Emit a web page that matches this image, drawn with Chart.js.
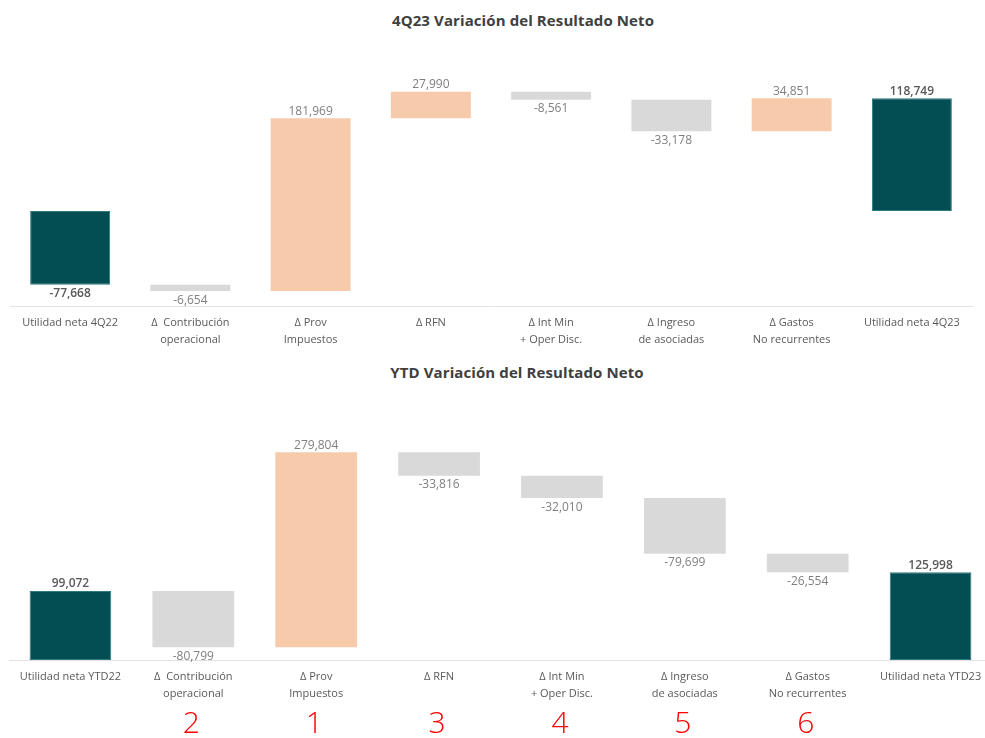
<!DOCTYPE html>
<html>
<head>
<meta charset="utf-8">
<script src="https://cdn.jsdelivr.net/npm/chart.js@4.4.0/dist/chart.umd.min.js"></script>
<style>
  html, body { margin: 0; padding: 0; background: #fff; overflow: hidden; width: 985px; height: 738px; }
  .wrap { position: relative; width: 985px; height: 738px; overflow: hidden; }
  canvas { position: absolute; left: 0; }
  .title { position: absolute; transform: translate(-50%, -50%); font-family: "Open Sans", sans-serif; font-weight: 700; font-size: 15px; color: #404040; white-space: nowrap; letter-spacing: 0.1px; }
</style>
</head>
<body>
<div class="wrap">
  <div class="title" style="top:20px; left:523px;">4Q23 Variación del Resultado Neto</div>
  <canvas id="c1" width="985" height="356" style="top:0;"></canvas>
  <div class="title" style="top:372px; left:517px;">YTD Variación del Resultado Neto</div>
  <canvas id="c2" width="992" height="382" style="top:356px;"></canvas>
</div>
<script>
// ---- Data ----
const categoriesQ = [
  "Utilidad neta 4Q22",
  ["Δ  Contribución", "operacional"],
  ["Δ Prov", "Impuestos"],
  "Δ RFN",
  ["Δ Int Min", "+ Oper Disc."],
  ["Δ Ingreso", "de asociadas"],
  ["Δ Gastos", "No recurrentes"],
  "Utilidad neta 4Q23"
];
const valuesQ = [-77668, -6654, 181969, 27990, -8561, -33178, 34851, 118749];
const isTotalQ = [true, false, false, false, false, false, false, true];

const categoriesYTD = [
  "Utilidad neta YTD22",
  ["Δ  Contribución", "operacional"],
  ["Δ Prov", "Impuestos"],
  "Δ RFN",
  ["Δ Int Min", "+ Oper Disc."],
  ["Δ Ingreso", "de asociadas"],
  ["Δ Gastos", "No recurrentes"],
  "Utilidad neta YTD23"
];
const valuesYTD = [99072, -80799, 279804, -33816, -32010, -79699, -26554, 125998];
const isTotalYTD = [true, false, false, false, false, false, false, true];
const rankYTD = ["", "2", "1", "3", "4", "5", "6", ""];

// ---- Styling ----
const TEAL = "#034E52";
const PEACH = "#F7CAAC";
const GRAY = "#D9D9D9";
const FONT = "'Open Sans', sans-serif";

function buildRanges(values, totals) {
  let cum = 0;
  return values.map((v, i) => {
    if (totals[i]) { cum = v; return [0, v]; }
    const start = cum; cum += v; return [start, cum];
  });
}
function buildColors(values, totals) {
  return values.map((v, i) => totals[i] ? TEAL : (v >= 0 ? PEACH : GRAY));
}

const valueLabels = {
  id: "valueLabels",
  afterDatasetsDraw(chart, args, opts) {
    const ctx = chart.ctx;
    const meta = chart.getDatasetMeta(0);
    ctx.save();
    ctx.textAlign = "center";
    meta.data.forEach((el, i) => {
      const v = opts.values[i];
      const total = opts.totals[i];
      ctx.font = (total ? "600 " : "400 ") + "12px " + FONT;
      ctx.fillStyle = total ? "#595959" : "#7F7F7F";
      const top = Math.min(el.y, el.base), bot = Math.max(el.y, el.base);
      const txt = v.toLocaleString("en-US");
      if (v >= 0) { ctx.textBaseline = "bottom"; ctx.fillText(txt, el.x, top - 1); }
      else { ctx.textBaseline = "top"; ctx.fillText(txt, el.x, bot + 3); }
    });
    ctx.restore();
  }
};

const rankLabels = {
  id: "rankLabels",
  afterDraw(chart, args, opts) {
    if (!opts.ranks) return;
    const ctx = chart.ctx;
    const xs = chart.scales.x;
    ctx.save();
    ctx.textAlign = "center";
    ctx.textBaseline = "middle";
    ctx.font = "300 30px " + FONT;
    ctx.fillStyle = "#FF0000";
    opts.ranks.forEach((r, i) => {
      if (r) ctx.fillText(r, xs.getPixelForValue(i) - 2, chart.chartArea.bottom + opts.offset);
    });
    ctx.restore();
  }
};

function makeChart(id, labels, values, totals, yMin, yMax, padTop, padLeft, padRight, axisH, ranks) {
  return new Chart(document.getElementById(id), {
    type: "bar",
    data: {
      labels: labels,
      datasets: [{
        data: buildRanges(values, totals),
        backgroundColor: buildColors(values, totals),
        borderColor: values.map((v, i) => totals[i] ? "#2E7A80" : "rgba(0,0,0,0)"),
        borderWidth: values.map((v, i) => totals[i] ? 1 : 0),
        borderSkipped: false,
        barPercentage: 0.665,
        categoryPercentage: 1.0
      }]
    },
    options: {
      responsive: false,
      devicePixelRatio: 1,
      animation: false,
      layout: { padding: { top: padTop, left: padLeft, right: padRight, bottom: 0 } },
      plugins: {
        legend: { display: false },
        tooltip: { enabled: false },
        title: { display: false },
        valueLabels: { values: values, totals: totals },
        rankLabels: { ranks: ranks, offset: 64 }
      },
      scales: {
        x: {
          grid: { display: false, drawTicks: false },
          border: { display: true, color: "#E3E3E3", width: 1 },
          ticks: {
            color: "#595959",
            font: { family: FONT, size: 11, lineHeight: 1.5 },
            padding: 9,
            maxRotation: 0,
            autoSkip: false
          },
          afterFit(scale) { scale.height = axisH; }
        },
        y: { display: false, min: yMin, max: yMax }
      }
    },
    plugins: [valueLabels, rankLabels]
  });
}

makeChart("c1", categoriesQ, valuesQ, isTotalQ, -100000, 140000, 78, 10, 13, 50, null);
makeChart("c2", categoriesYTD, valuesYTD, isTotalYTD, 0, 340000, 67, 9, 0, 78, rankYTD);
</script>
</body>
</html>
